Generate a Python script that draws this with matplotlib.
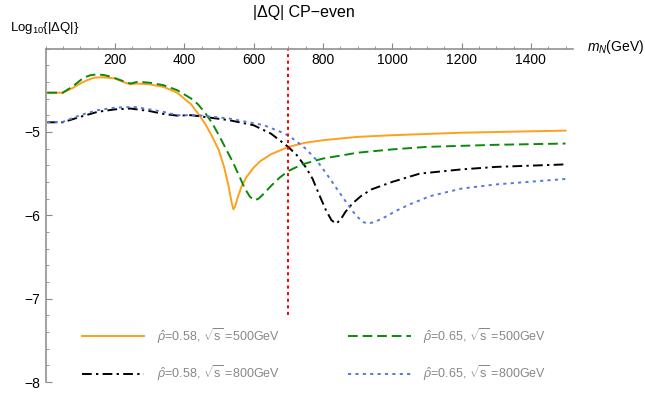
import matplotlib
matplotlib.use("Agg")
import matplotlib.pyplot as plt
from matplotlib.ticker import MultipleLocator, FixedLocator

plt.rcParams['font.family'] = ['Liberation Sans', 'DejaVu Sans']
plt.rcParams['mathtext.fontset'] = 'custom'
plt.rcParams['mathtext.rm'] = 'Liberation Sans'
plt.rcParams['mathtext.it'] = 'Liberation Sans:italic'

# curves: m_N (GeV) vs log10|dQ|
m_o = [5, 50, 80, 100, 120, 140, 160, 180, 200, 230, 245, 265, 300, 340, 380, 400, 420,
       440, 460, 480, 500, 515, 528, 537, 542, 547, 555, 565, 580, 600, 620, 650, 700,
       750, 800, 900, 1000, 1200, 1500]
y_o = [-4.53, -4.53, -4.47, -4.42, -4.38, -4.35, -4.345, -4.35, -4.36, -4.41, -4.43,
       -4.42, -4.43, -4.46, -4.53, -4.60, -4.67, -4.78, -4.90, -5.05, -5.22, -5.42,
       -5.65, -5.85, -5.93, -5.89, -5.78, -5.66, -5.54, -5.43, -5.35, -5.27, -5.18,
       -5.13, -5.10, -5.06, -5.04, -5.01, -4.985]

m_g = [5, 50, 80, 110, 130, 150, 170, 190, 230, 245, 265, 300, 340, 380, 420, 440, 460,
       480, 500, 520, 540, 560, 575, 590, 603, 615, 630, 650, 675, 700, 740, 800, 900,
       1000, 1100, 1300, 1500]
y_g = [-4.53, -4.53, -4.45, -4.35, -4.32, -4.31, -4.32, -4.34, -4.40, -4.42, -4.40,
       -4.41, -4.44, -4.50, -4.60, -4.67, -4.77, -4.89, -5.04, -5.20, -5.36, -5.54,
       -5.68, -5.78, -5.82, -5.80, -5.74, -5.65, -5.55, -5.47, -5.39, -5.32, -5.25,
       -5.21, -5.18, -5.155, -5.14]

m_k = [5, 50, 100, 150, 200, 245, 300, 340, 380, 420, 440, 530, 600, 650, 700, 725,
       750, 770, 790, 810, 825, 838, 850, 865, 885, 910, 940, 1000, 1080, 1200, 1300,
       1500]
y_k = [-4.885, -4.885, -4.82, -4.76, -4.73, -4.72, -4.75, -4.785, -4.805, -4.80, -4.81,
       -4.86, -4.92, -5.02, -5.18, -5.28, -5.42, -5.56, -5.76, -5.95, -6.06, -6.10,
       -6.06, -5.96, -5.86, -5.77, -5.69, -5.60, -5.50, -5.45, -5.42, -5.39]

m_b = [5, 50, 100, 150, 200, 254, 300, 340, 380, 440, 530, 630, 690, 720, 750, 780,
       810, 840, 870, 895, 915, 930, 950, 980, 1010, 1050, 1110, 1200, 1300, 1500]
y_b = [-4.885, -4.88, -4.80, -4.74, -4.71, -4.70, -4.73, -4.76, -4.80, -4.80, -4.84,
       -4.92, -5.02, -5.10, -5.20, -5.33, -5.50, -5.68, -5.86, -6.00, -6.08, -6.10,
       -6.08, -6.02, -5.95, -5.87, -5.77, -5.68, -5.63, -5.565]

labels = [r"$\hat{\rho}$=0.58, $\sqrt{\rm s}$ =500GeV",
          r"$\hat{\rho}$=0.58, $\sqrt{\rm s}$ =800GeV",
          r"$\hat{\rho}$=0.65, $\sqrt{\rm s}$ =500GeV",
          r"$\hat{\rho}$=0.65, $\sqrt{\rm s}$ =800GeV"]
m_cut = 700
cut_ymin = -7.2

W, H = 645, 395
fig = plt.figure(figsize=(W / 100, H / 100), dpi=100)
ax = fig.add_axes([45.5 / W, (H - 382) / H, 527 / W, 333.5 / H])
ax.set_xlim(0, 1520)
ax.set_ylim(-8, -4)

lo, = ax.plot(m_o, y_o, color="#FFA01C", lw=1.4)
lk, = ax.plot(m_k, y_k, color="black", lw=1.4, dashes=(5, 2.2, 1.2, 2.2))
lg, = ax.plot(m_g, y_g, color="#0A8A0A", lw=1.4, dashes=(5, 2.5))
lb, = ax.plot(m_b, y_b, color="#5577E0", lw=1.4, dashes=(1.6, 2.2))
ax.plot([m_cut, m_cut], [cut_ymin, -4], color="red", lw=1.4, dashes=(1.6, 1.8))

# Mathematica-style axes: x axis on top, y axis on left
for s in ("right", "top"):
    ax.spines[s].set_visible(False)
ax.spines["bottom"].set_position(("data", -4))
for s in ("bottom", "left"):
    ax.spines[s].set_color("#888888")
    ax.spines[s].set_linewidth(1.1)
ax.xaxis.set_major_locator(FixedLocator([200, 400, 600, 800, 1000, 1200, 1400]))
ax.xaxis.set_minor_locator(MultipleLocator(50))
ax.yaxis.set_major_locator(FixedLocator([-8, -7, -6, -5]))
ax.yaxis.set_minor_locator(MultipleLocator(0.2))
ax.tick_params(axis="x", which="both", direction="in", color="#888888", labelsize=10, pad=3)
ax.tick_params(axis="x", which="major", length=4)
ax.tick_params(axis="x", which="minor", length=2.5)
ax.tick_params(axis="y", which="both", direction="in", color="#888888", labelsize=10, pad=4)
ax.tick_params(axis="y", which="major", length=4)
ax.tick_params(axis="y", which="minor", length=2.5)

fig.text(304 / W, 1 - 13 / H, "|ΔQ| CP−even", ha="center", va="center", fontsize=11.5)
fig.text(10 / W, 1 - 28 / H, r"Log$_{10}${|ΔQ|}", ha="left", va="center", fontsize=9.5)
fig.text(587 / W, 1 - 47 / H, r"$m_N$(GeV)", ha="left", va="center", fontsize=10)

ax.legend([lo, lk, lg, lb], labels, ncol=2, loc="center",
          bbox_to_anchor=(314 / W, 1 - 354.5 / H), bbox_transform=fig.transFigure,
          frameon=False, fontsize=9, labelcolor="#888888", handlelength=5,
          labelspacing=1.4, columnspacing=5.5, handletextpad=1.0)

fig.savefig("out.png", dpi=100)
